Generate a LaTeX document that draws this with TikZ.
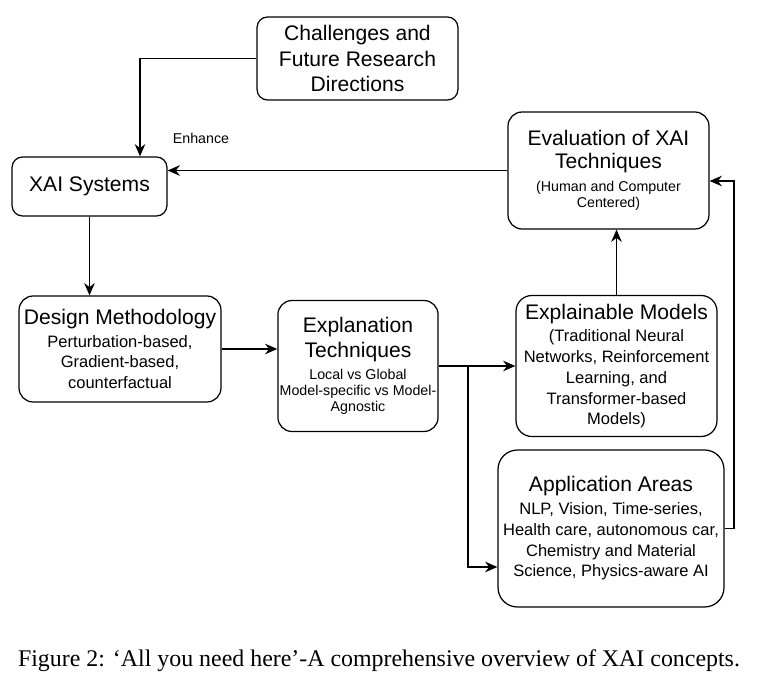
\documentclass[tikz,border=0pt]{standalone}
\usepackage{fontspec}
\setmainfont{Liberation Serif}
\newfontfamily\diagfont{Liberation Sans}
\usetikzlibrary{arrows.meta,calc}
\newcommand\bigtxt{\fontsize{12}{14.4}\selectfont}
\newcommand\midtxt{\fontsize{9.4}{11.3}\selectfont}
\newcommand\smalltxt{\fontsize{8.1}{9.2}\selectfont}
% line breaks for the smaller lines
\newcommand\hdbr{\\[-1.4pt]}
\newcommand\midbr{\\[-2.6pt]}
\newcommand\smbr{\\[-5.2pt]}
\tikzset{box/.style={draw, rounded corners=6pt, align=center, inner sep=1pt, font=\diagfont\bigtxt}}
\begin{document}
\begin{tikzpicture}[x=.02cm, y=-.02cm, >={Stealth[length=7pt,width=6pt]}, line width=.7pt]
 \useasboundingbox (0,0) rectangle (758,682);
 % boxes
 \node[box, minimum width=4.02cm, minimum height=1.66cm](chal) at (357.5,58.5){Challenges and\\Future Research\\Directions};
 \node[box, minimum width=3.1cm, minimum height=1.18cm](xai) at (89.5,186.5){XAI Systems};
 \node[box, rounded corners=8pt, minimum width=4.02cm, minimum height=2.34cm](eval) at (608.5,170.5){Evaluation of XAI\\[-1pt]Techniques\hdbr\smalltxt (Human and Computer\smbr\smalltxt Centered)};
 \node[box, rounded corners=8pt, minimum width=4.04cm, minimum height=2.12cm](design) at (120,349){Design Methodology\hdbr\midtxt Perturbation-based,\midbr\midtxt Gradient-based,\midbr\midtxt counterfactual};
 \node[box, rounded corners=8pt, minimum width=3.2cm, minimum height=2.62cm](expl) at (358,366){Explanation\\Techniques\\[-2pt]\smalltxt Local vs Global\smbr\smalltxt Model-specific vs Model-\smbr\smalltxt Agnostic};
 \node[box, rounded corners=9pt, minimum width=4.02cm, minimum height=2.82cm](models) at (616.5,366){Explainable Models\hdbr\midtxt (Traditional Neural\midbr\midtxt Networks, Reinforcement\midbr\midtxt Learning, and\midbr\midtxt Transformer-based\midbr\midtxt Models)};
 \node[box, rounded corners=11pt, minimum width=4.52cm, minimum height=3.14cm](apps) at (611,528.5){Application Areas\hdbr\midtxt NLP, Vision, Time-series,\midbr\midtxt Health care, autonomous car,\midbr\midtxt Chemistry and Material\midbr\midtxt Science, Physics-aware AI};
 \node[font=\diagfont\smalltxt](enh) at (201,138){Enhance};
 % arrows
 \draw[->](chal.west) -| ($(xai.north)+(50.5,0)$);
 \draw[->](eval.west) -- (eval.west -| xai.east);
 \draw[->](xai.south) -- (xai.south |- design.north);
 \draw[->](design.east) -- (design.east -| expl.west);
 \draw[->](expl.east) -- (models.west);
 \coordinate (split) at (468,366);
 \draw[->](split) |- ($(apps.west)+(0,38.5)$);
 \draw[->](models.north) -- (models.north |- eval.south);
 \coordinate (back) at (734,181);
 \draw[->](apps.east) -| (back) -- (back -| eval.east);
 % caption
 \node[font=\fontsize{13.6}{16}\selectfont](cap) at (379,661){Figure 2: ‘All you need here’-A comprehensive overview of XAI concepts.};
\end{tikzpicture}
\end{document}
